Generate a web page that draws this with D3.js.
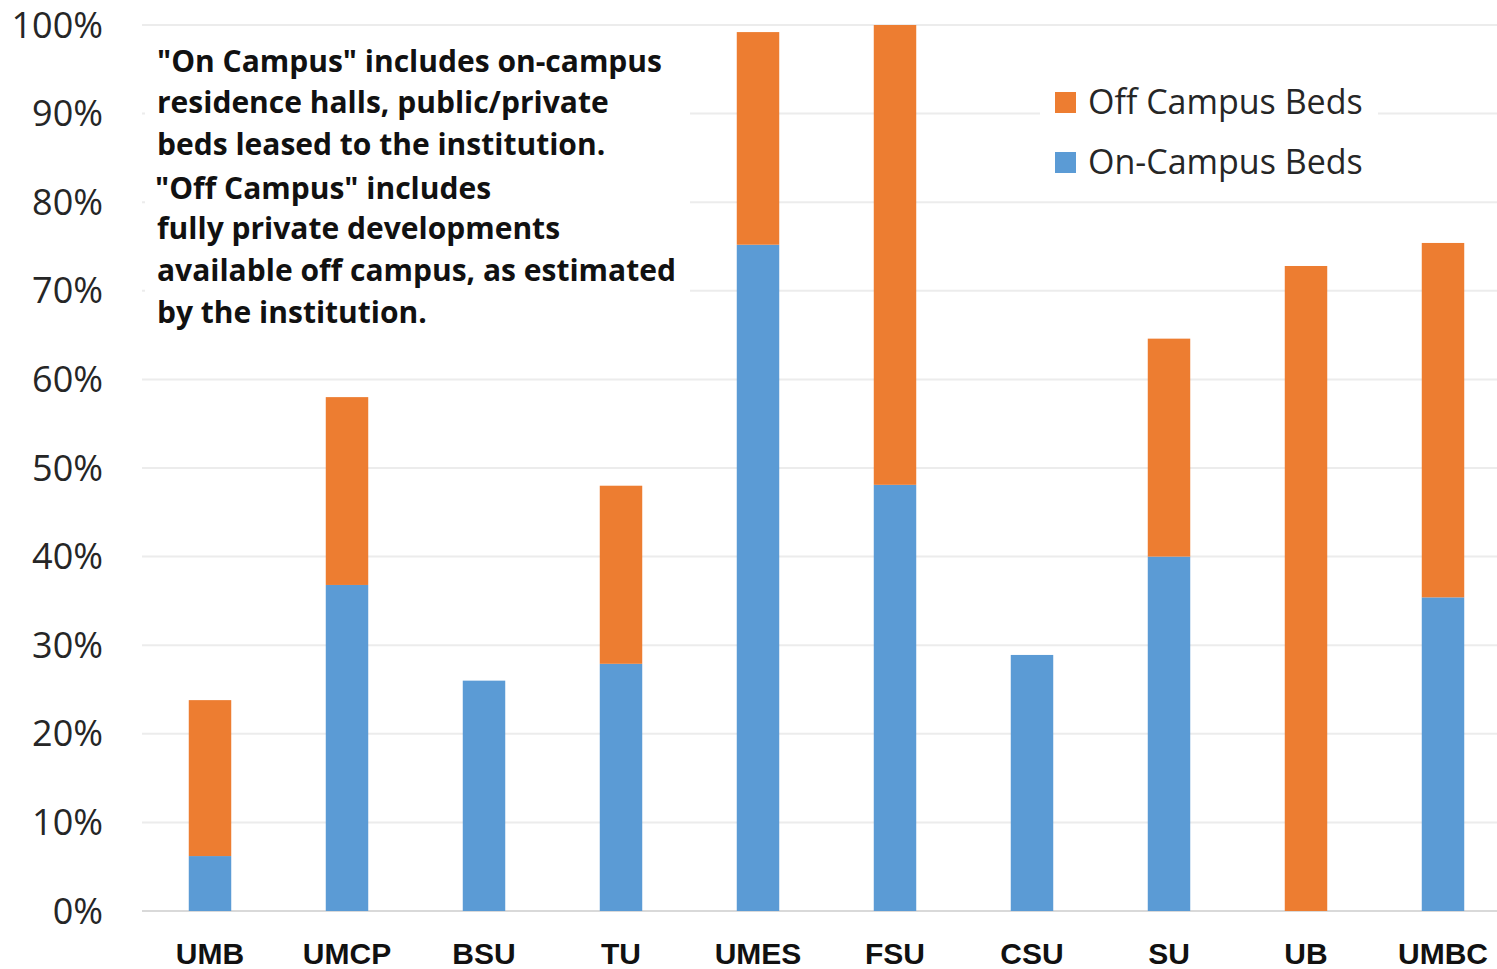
<!DOCTYPE html>
<html>
<head>
<meta charset="utf-8">
<script src="https://cdn.jsdelivr.net/npm/d3@7"></script>
<style>
  body { margin: 0; background: #fff; }
  svg { display: block; }
</style>
</head>
<body>
<script>
//campus list and bed shares (fraction of enrollment)
var campuses = ["UMB", "UMCP", "BSU", "TU", "UMES", "FSU", "CSU", "SU", "UB", "UMBC"];
var onCampus = [0.062, 0.368, 0.260, 0.279, 0.752, 0.481, 0.289, 0.400, 0.000, 0.354];
var offCampus = [0.176, 0.212, 0.000, 0.201, 0.240, 0.519, 0.000, 0.246, 0.728, 0.400];
var yTicks = [0, 0.1, 0.2, 0.3, 0.4, 0.5, 0.6, 0.7, 0.8, 0.9, 1.0];
var seriesNames = ["Off Campus Beds", "On-Campus Beds"];
var noteLines = [
  "\"On Campus\" includes on-campus",
  "residence halls, public/private",
  "beds leased to the institution.",
  "\"Off Campus\" includes",
  "fully private developments",
  "available off campus, as estimated",
  "by the institution."
];

var colors = { on: "#5b9bd5", off: "#ed7d31" };

var width = 1497, height = 969;

var svg = d3.select("body").append("svg")
  .attr("width", width)
  .attr("height", height);

svg.append("rect").attr("width", width).attr("height", height).attr("fill", "#fff");

//scales
var x = d3.scaleBand()
  .domain(campuses)
  .range([141.5, 1511.5])
  .paddingInner(0.69)
  .paddingOuter(0.345);

var y = d3.scaleLinear().domain([0, 1]).range([911, 25]);

//gridlines
svg.append("g").selectAll("line")
  .data(yTicks)
  .enter().append("line")
  .attr("x1", 142).attr("x2", width)
  .attr("y1", function(d){ return y(d); })
  .attr("y2", function(d){ return y(d); })
  .attr("stroke", function(d){ return d === 0 ? "#d9d9d9" : "#ececec"; })
  .attr("stroke-width", 2);

//y tick labels
svg.append("g").selectAll("text")
  .data(yTicks)
  .enter().append("text")
  .attr("x", 103)
  .attr("y", function(d){ return y(d); })
  .attr("dy", "0.35em")
  .attr("text-anchor", "end")
  .style("font-family", "'Open Sans', sans-serif")
  .style("font-size", "36px")
  .attr("fill", "#262626")
  .text(d3.format(".0%"));

//stack data
var rows = campuses.map(function(c, i){
  return { campus: c, on: onCampus[i], off: offCampus[i] };
});
var stack = d3.stack().keys(["on", "off"]);
var layers = stack(rows);

svg.append("g").selectAll("g")
  .data(layers)
  .enter().append("g")
  .attr("fill", function(d){ return colors[d.key]; })
  .selectAll("rect")
  .data(function(d){ return d; })
  .enter().append("rect")
  .attr("x", function(d){ return x(d.data.campus); })
  .attr("width", x.bandwidth())
  .attr("y", function(d){ return y(d[1]); })
  .attr("height", function(d){ return y(d[0]) - y(d[1]); });

//category labels
svg.append("g").selectAll("text")
  .data(campuses)
  .enter().append("text")
  .attr("x", function(d){ return x(d) + x.bandwidth() / 2; })
  .attr("y", 964)
  .attr("text-anchor", "middle")
  .style("font-family", "'Liberation Sans', Arial, sans-serif")
  .style("font-weight", "bold")
  .style("font-size", "30px")
  .attr("fill", "#111")
  .text(function(d){ return d; });

//note box
svg.append("rect")
  .attr("x", 145).attr("y", 38)
  .attr("width", 545).attr("height", 297)
  .attr("fill", "#fff");

var noteY = [72, 113, 155, 199, 239, 281, 323];
svg.append("g").selectAll("text")
  .data(noteLines)
  .enter().append("text")
  .attr("x", function(d, i){ return i === 3 ? 155 : 157; })
  .attr("y", function(d, i){ return noteY[i]; })
  .style("font-family", "'Open Sans', sans-serif")
  .style("font-weight", "bold")
  .style("font-size", "30px")
  .attr("fill", "#111")
  .text(function(d){ return d; });

//legend
var legend = svg.append("g");
legend.append("rect")
  .attr("x", 1040).attr("y", 78)
  .attr("width", 338).attr("height", 112)
  .attr("fill", "#fff");

var legendItems = legend.selectAll("g.item")
  .data(seriesNames)
  .enter().append("g")
  .attr("class", "item")
  .attr("transform", function(d, i){ return "translate(1055," + (92 + i * 60) + ")"; });

legendItems.append("rect")
  .attr("width", 21).attr("height", 21)
  .attr("fill", function(d, i){ return i === 0 ? colors.off : colors.on; });

legendItems.append("text")
  .attr("x", 33)
  .attr("y", 22)
  .style("font-family", "'Open Sans', sans-serif")
  .style("font-size", "34px")
  .attr("fill", "#262626")
  .text(function(d){ return d; });
</script>
</body>
</html>
